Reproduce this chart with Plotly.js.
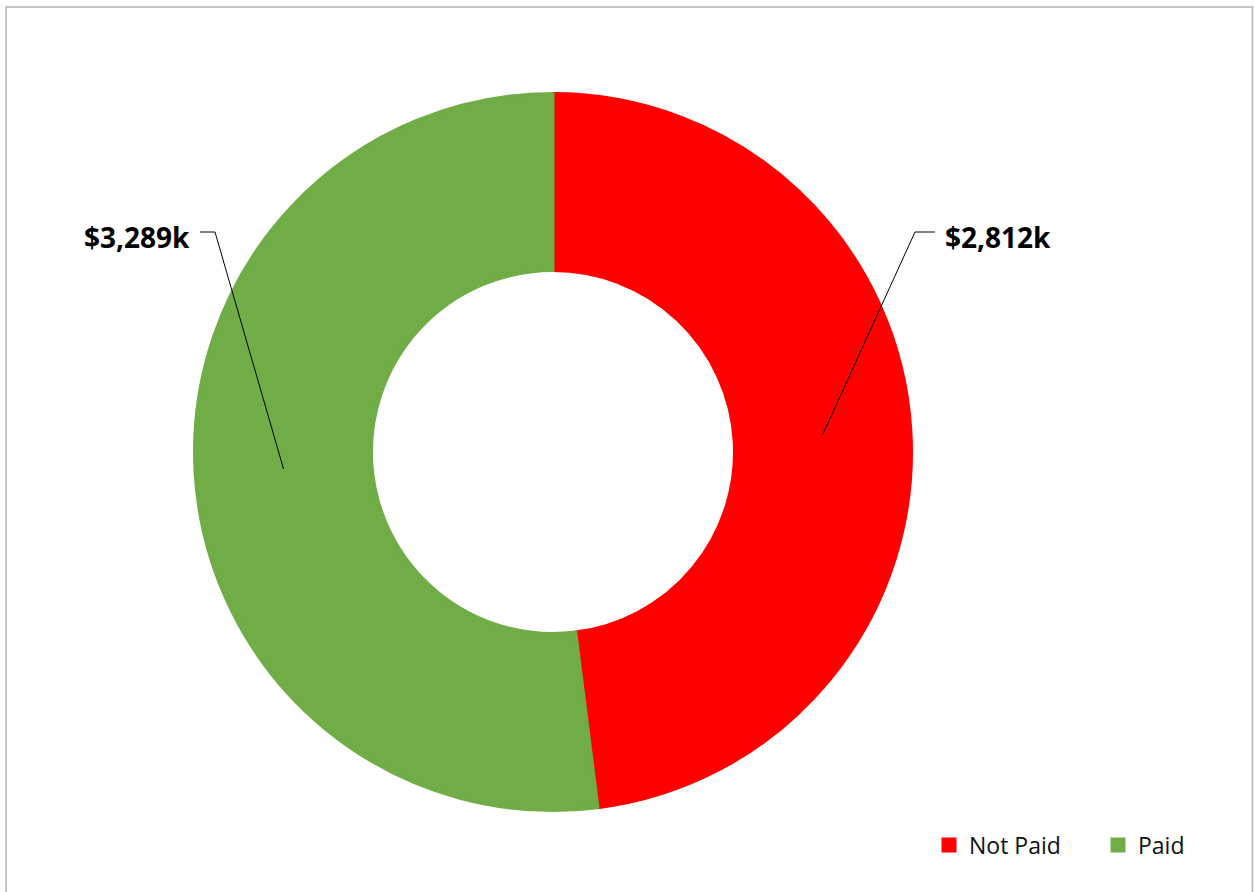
<!DOCTYPE html>
<html>
<head>
<meta charset="utf-8">
<script src="https://cdn.plot.ly/plotly-3.0.1.min.js"></script>
<style>
html,body{margin:0;padding:0;background:#fff;}
#chart{width:1254px;height:892px;}
</style>
</head>
<body>
<div id="chart"></div>
<script>
// ---- data ----
const categories = ["Not Paid", "Paid"];
const labelValues = [2812, 3289];          // amounts shown in the labels ($k)
const sliceShare = [48.0, 52.0];           // slice sizes as drawn (percent of ring)
const colors = ["#FF0000", "#70AD47"];

// ---- layout constants ----
const W = 1254, H = 892;
const cx = 553, cy = 452, R = 360, hole = 0.5;
const edge = 3;                            // slice outline (also sizes legend squares)
const px = x => x / W, py = y => 1 - y / H;

// leader-line start points from the slice mid-angles
const total = sliceShare.reduce((a, b) => a + b, 0);
let acc = 0;
const mids = sliceShare.map(v => { const m = (acc + v / 2) / total * 2 * Math.PI; acc += v; return m; });
const rMid = R * (1 + hole) / 2;
const starts = mids.map(a => [cx + rMid * Math.sin(a), cy - rMid * Math.cos(a)]);

const elbows = [[915, 232, 935, 232], [215, 232, 200, 232]];
const labelPos = [[943, 237, "left"], [192, 237, "right"]];

const frame = { color: "#b4b4b4", width: 1.5 };
const shapes = [
  { type: "path", xref: "paper", yref: "paper",
    path: `M${px(6)},${py(892)} L${px(6)},${py(7)} L${px(1252.5)},${py(7)} L${px(1252.5)},${py(892)}`,
    line: frame }
];
starts.forEach((s, i) => {
  const e = elbows[i];
  shapes.push({
    type: "path", xref: "paper", yref: "paper",
    path: `M${px(s[0])},${py(s[1])} L${px(e[0])},${py(e[1])} L${px(e[2])},${py(e[3])}`,
    line: { color: "#000", width: 1 }
  });
});

const annotations = labelValues.map((v, i) => ({
  xref: "paper", yref: "paper",
  x: px(labelPos[i][0]), y: py(labelPos[i][1]),
  xanchor: labelPos[i][2], yanchor: "middle",
  text: "$" + v.toLocaleString("en-US") + "k",
  showarrow: false,
  font: { family: "Open Sans, sans-serif", size: 28, color: "#000", weight: "bold" }
}));

const Rd = R - edge / 2;
const trace = {
  type: "pie",
  labels: categories,
  values: sliceShare,
  hole: (R * hole + edge / 2) / Rd,
  sort: false,
  direction: "clockwise",
  rotation: 0,
  textinfo: "none",
  marker: { colors: colors, line: { width: edge, color: colors } },
  domain: { x: [px(cx - Rd), px(cx + Rd)], y: [py(cy + Rd), py(cy - Rd)] }
};

const layout = {
  autosize: false,
  width: W, height: H,
  margin: { l: 0, r: 0, t: 0, b: 0, autoexpand: false },
  paper_bgcolor: "#fff",
  showlegend: true,
  legend: {
    orientation: "h",
    x: px(929), xanchor: "left",
    y: py(845), yanchor: "middle",
    font: { family: "Open Sans, sans-serif", size: 23, color: "#111" },
    entrywidth: 124,
    bgcolor: "rgba(0,0,0,0)"
  },
  shapes: shapes,
  annotations: annotations
};

Plotly.newPlot("chart", [trace], layout, { displayModeBar: false, staticPlot: true });
</script>
</body>
</html>
